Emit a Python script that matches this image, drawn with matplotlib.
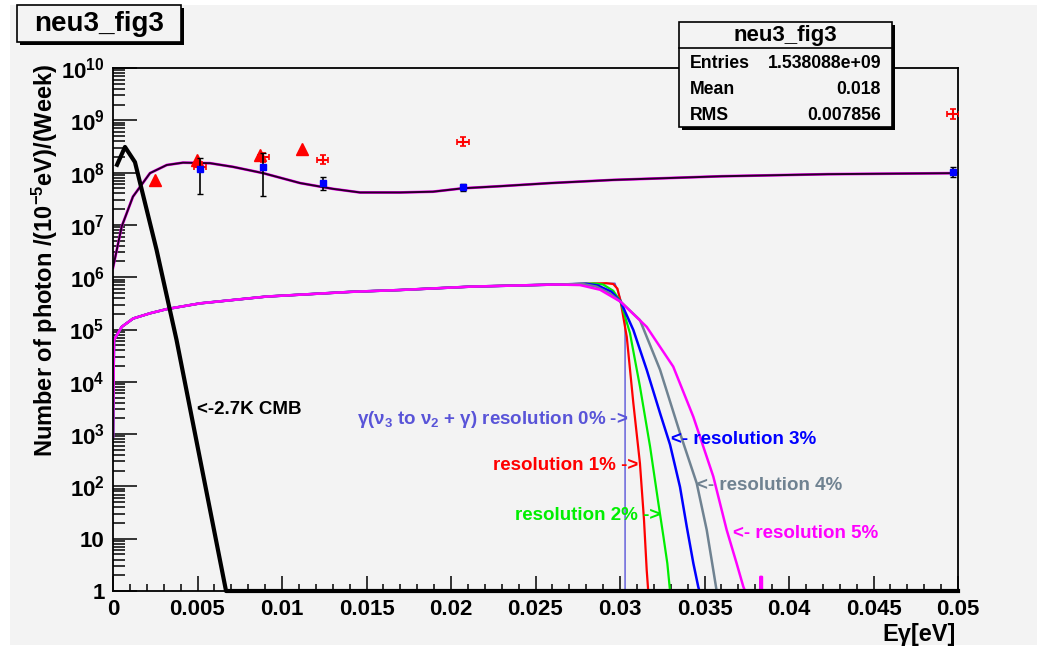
import matplotlib
matplotlib.use("Agg")
import matplotlib.pyplot as plt
from matplotlib.patches import Rectangle
from matplotlib.ticker import LogLocator, MultipleLocator, FuncFormatter, NullFormatter
import numpy as np

plt.rcParams['font.family'] = ['Liberation Sans', 'DejaVu Sans']
plt.rcParams['font.weight'] = 'bold'
plt.rcParams['mathtext.fontset'] = 'custom'
plt.rcParams['mathtext.rm'] = 'Liberation Sans:bold'
plt.rcParams['mathtext.bf'] = 'Liberation Sans:bold'
plt.rcParams['mathtext.it'] = 'Liberation Sans:bold'

# values, y values given as log10
cmb_x = [0.00024, 0.00071, 0.0013, 0.00258, 0.00376, 0.00669, 0.05]
cmb_lg = [8.15, 8.49, 8.20, 6.52, 4.80, 0.0, 0.0]

fit_x = [0.0, 0.000515, 0.00118, 0.00219, 0.00318, 0.00414, 0.00574, 0.0071, 0.00888,
         0.01107, 0.0130, 0.01462, 0.01698, 0.01893, 0.0207, 0.0229, 0.0259, 0.0296,
         0.0360, 0.0423, 0.05]
fit_lg = [6.18, 6.97, 7.54, 7.99, 8.145, 8.19, 8.18, 8.11, 7.99,
          7.80, 7.69, 7.62, 7.62, 7.635, 7.70, 7.74, 7.80, 7.86,
          7.93, 7.97, 7.99]

# common part of the nu3 -> nu2 + gamma spectra
plat_x = [0.0, 0.00006, 0.000515, 0.00119, 0.00219, 0.00318, 0.00515, 0.00909,
          0.01407, 0.01698, 0.0212, 0.0262]
plat_lg = [2.95, 4.80, 5.05, 5.21, 5.31, 5.39, 5.50, 5.63, 5.72, 5.755, 5.82, 5.86]

res0_x = [0.0269, 0.0297, 0.0303, 0.0303]
res0_lg = [5.865, 5.885, 5.34, 0.0]
res1_x = [0.0269, 0.0292, 0.0296, 0.02985, 0.03004, 0.0304, 0.03079, 0.03118, 0.03142, 0.03158, 0.03167]
res1_lg = [5.865, 5.885, 5.87, 5.78, 5.53, 4.86, 3.59, 2.44, 1.36, 0.40, 0.0]
res2_x = [0.0269, 0.0285, 0.0290, 0.0296, 0.03004, 0.03059, 0.03118, 0.03178, 0.03227, 0.03257, 0.0328, 0.03296]
res2_lg = [5.865, 5.88, 5.86, 5.74, 5.53, 4.93, 3.91, 2.76, 1.68, 1.04, 0.53, 0.0]
res3_x = [0.0269, 0.0280, 0.0287, 0.0295, 0.03004, 0.03079, 0.03158, 0.03237, 0.03296, 0.03355,
          0.03395, 0.03434, 0.03463, 0.0347]
res3_lg = [5.865, 5.875, 5.84, 5.72, 5.53, 4.99, 4.23, 3.40, 2.80, 1.99, 1.23, 0.53, 0.08, 0.0]
res4_x = [0.0269, 0.0278, 0.0286, 0.0294, 0.03004, 0.03118, 0.03237, 0.03355, 0.03454, 0.03513,
          0.03552, 0.03572]
res4_lg = [5.865, 5.87, 5.82, 5.69, 5.53, 5.18, 4.23, 3.02, 2.06, 1.17, 0.40, 0.0]
res5_x = [0.0262, 0.02763, 0.02882, 0.03004, 0.03158, 0.03315, 0.03434, 0.03552, 0.03631, 0.0369,
          0.0373, 0.0374, 0.0383, 0.0383, 0.0384, 0.0384]
res5_lg = [5.86, 5.85, 5.76, 5.53, 5.05, 4.29, 3.33, 2.19, 1.17, 0.53, 0.08, 0.0, 0.0, 0.27, 0.27, 0.0]

tri_x = [0.00249, 0.00495, 0.0087, 0.01117]
tri_lg = [7.86, 8.24, 8.34, 8.46]

red_x = [0.00515, 0.0089, 0.0124, 0.0207, 0.0497]
red_lg = [8.11, 8.29, 8.25, 8.59, 9.12]
red_lo = [8.02, 8.20, 8.16, 8.50, 9.02]
red_hi = [8.20, 8.38, 8.34, 8.68, 9.22]
red_xerr = 0.00034

blue_x = [0.00515, 0.00886, 0.0124, 0.0207, 0.0497]
blue_lg = [8.07, 8.10, 7.81, 7.72, 8.02]
blue_lo = [7.60, 7.56, 7.67, 7.65, 7.91]
blue_hi = [8.27, 8.37, 7.92, 7.78, 8.10]

stats_names = ['Entries', 'Mean', 'RMS']
stats_vals = ['1.538088e+09', '0.018', '0.007856']

W, H = 1054, 653
bg = '#f3f3f3'
c0 = '#5954d8'
cgray = '#6f8291'


def p10(v):
    return 10.0 ** np.asarray(v)


fig = plt.figure(figsize=(W / 100, H / 100), dpi=100, facecolor='white')
fig.patches.append(Rectangle((10 / W, 1 - 645 / H), 1027 / W, 640 / H, transform=fig.transFigure,
                             facecolor=bg, edgecolor='none', zorder=-5))

ax = fig.add_axes([113 / W, 1 - 591 / H, 845 / W, 523 / H])
ax.set_facecolor(bg)
ax.set_yscale('log')
ax.set_xlim(0, 0.05)
ax.set_ylim(1, 1e10)

# spectra
ax.plot(plat_x + res0_x, p10(plat_lg + res0_lg), color=c0, lw=1.0)
ax.plot(plat_x + res1_x, p10(plat_lg + res1_lg), color='#ff0000', lw=1.6)
ax.plot(plat_x + res2_x, p10(plat_lg + res2_lg), color='#00ee00', lw=1.6)
ax.plot(plat_x + res3_x, p10(plat_lg + res3_lg), color='#0000ff', lw=1.8)
ax.plot(plat_x + res4_x, p10(plat_lg + res4_lg), color=cgray, lw=1.8)
ax.plot(plat_x + res5_x, p10(plat_lg + res5_lg), color='#ff00ff', lw=1.8)

ax.plot(fit_x, p10(fit_lg), color='#ff00ff', lw=2.0)
ax.plot(fit_x, p10(fit_lg), color='#250025', lw=1.4)

ax.plot(cmb_x, p10(cmb_lg), color='black', lw=3.0, clip_on=False, zorder=4)

# data points
ax.plot(tri_x, p10(tri_lg), '^', color='red', ms=9, mec='red', zorder=5)
ry = p10(red_lg)
ax.errorbar(red_x, ry, yerr=[ry - p10(red_lo), p10(red_hi) - ry], xerr=red_xerr,
            fmt='none', ecolor='red', elinewidth=1.5, capsize=2, capthick=1.2, zorder=5)
by = p10(blue_lg)
ax.errorbar(blue_x, by, yerr=[by - p10(blue_lo), p10(blue_hi) - by], fmt='none',
            ecolor='black', elinewidth=1.2, capsize=2, capthick=1.0, zorder=5)
ax.plot(blue_x, by, 's', color='#0000ff', ms=5, mec='#0000ff', zorder=6)

# axes styling, ROOT like
for s in ax.spines.values():
    s.set_linewidth(1.3)
ax.xaxis.set_major_locator(MultipleLocator(0.005))
ax.xaxis.set_minor_locator(MultipleLocator(0.001))
ax.xaxis.set_major_formatter(FuncFormatter(lambda v, p: '%g' % round(v, 4)))
ax.yaxis.set_major_locator(LogLocator(base=10, numticks=20))
ax.yaxis.set_minor_locator(LogLocator(base=10, subs=np.arange(2, 10), numticks=20))
ax.yaxis.set_minor_formatter(NullFormatter())


def ylab(v, p):
    n = int(round(np.log10(v)))
    if n == 0:
        return '1'
    if n == 1:
        return '10'
    return r'$\mathbf{10^{%d}}$' % n


ax.yaxis.set_major_formatter(FuncFormatter(ylab))
ax.tick_params(axis='x', which='major', direction='in', length=10.5, width=1.1,
               labelsize=16, pad=6, top=False)
ax.tick_params(axis='x', which='minor', direction='in', length=5, width=1.1, top=False)
ax.tick_params(axis='y', which='major', direction='in', length=17, width=1.1,
               labelsize=16, pad=6, right=False)
ax.tick_params(axis='y', which='minor', direction='in', length=8.5, width=1.1, right=False)

fig.text(45 / W, 1 - 64 / H, r'Number of photon /(10$^{\mathbf{-5}}$eV)/(Week)', rotation=90,
         ha='center', va='top', fontsize=17, fontweight='bold')
fig.text(956 / W, 1 - 634 / H, 'Eγ[eV]', ha='right', va='center', fontsize=17, fontweight='bold')

# overlay in pixel coordinates for boxes and labels
ov = fig.add_axes([0, 0, 1, 1], zorder=5)
ov.set_xlim(0, W)
ov.set_ylim(H, 0)
ov.axis('off')
ov.patch.set_alpha(0)

ov.add_patch(Rectangle((20, 8), 164, 37, facecolor='black', edgecolor='none'))
ov.add_patch(Rectangle((17, 5), 164, 37, facecolor=bg, edgecolor='black', lw=1.2))
ov.text(99, 24, 'neu3_fig3', ha='center', va='center', fontsize=20, fontweight='bold')

ov.add_patch(Rectangle((682, 25), 213, 105, facecolor='black', edgecolor='none'))
ov.add_patch(Rectangle((679, 22), 213, 105, facecolor=bg, edgecolor='black', lw=1.2))
ov.plot([679, 892], [48, 48], color='black', lw=1.2)
ov.text(785.5, 35, 'neu3_fig3', ha='center', va='center', fontsize=16, fontweight='bold')
for i, (nm, vl) in enumerate(zip(stats_names, stats_vals)):
    yy = 63 + i * 26.5
    ov.text(690, yy, nm, ha='left', va='center', fontsize=12.7, fontweight='bold')
    ov.text(881, yy, vl, ha='right', va='center', fontsize=12.7, fontweight='bold')

lab = dict(ha='left', va='center', fontsize=13.5, fontweight='bold')
ov.text(197, 410, '<-2.7K CMB', color='black', **lab)
ov.text(357, 419, r'γ(ν$_{\mathbf{3}}$ to ν$_{\mathbf{2}}$ + γ) resolution 0% ->', color=c0, **lab)
ov.text(493, 466, 'resolution 1% ->', color='#ff0000', **lab)
ov.text(515, 515, 'resolution 2% ->', color='#00ee00', **lab)
ov.text(671, 440, '<- resolution 3%', color='#0000ff', **lab)
ov.text(697, 486, '<- resolution 4%', color=cgray, **lab)
ov.text(733, 533, '<- resolution 5%', color='#ff00ff', **lab)

fig.savefig('out.png', dpi=100, facecolor=fig.get_facecolor())
